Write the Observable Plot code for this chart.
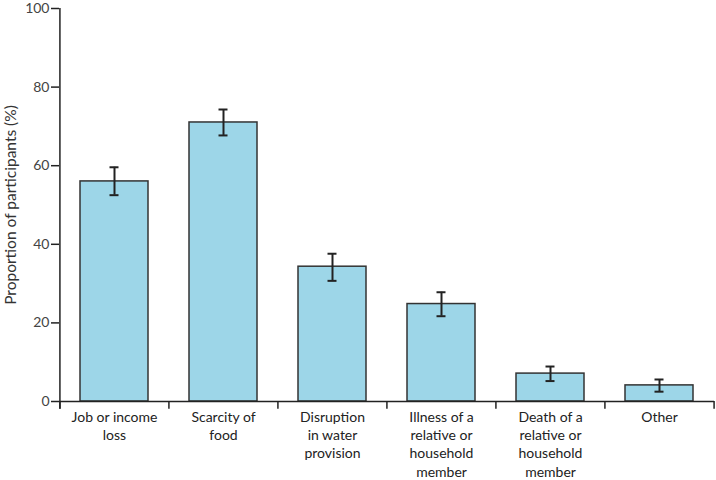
<!DOCTYPE html>
<html>
<head>
<meta charset="utf-8">
<script src="https://cdn.jsdelivr.net/npm/d3@7"></script>
<script src="https://cdn.jsdelivr.net/npm/@observablehq/plot@0.6"></script>
<style>
  html, body { margin: 0; padding: 0; background: #fff; }
  #chart { width: 716px; height: 480px; }
</style>
</head>
<body>
<div id="chart"></div>
<script>
const categories = [
  "Job or income\nloss",
  "Scarcity of\nfood",
  "Disruption\nin water\nprovision",
  "Illness of a\nrelative or\nhousehold\nmember",
  "Death of a\nrelative or\nhousehold\nmember",
  "Other"
];
const values = [56, 71, 34.3, 24.8, 7.1, 4.1];
const lower  = [52.5, 67.7, 30.7, 21.7, 5.2, 2.5];
const upper  = [59.6, 74.3, 37.6, 27.8, 8.9, 5.6];
const yTicks = [0, 20, 40, 60, 80, 100];

const data = categories.map((c, i) => ({cat: c, value: values[i], lo: lower[i], hi: upper[i]}));

const W = 716, H = 480, mL = 59, mR = 2, mT = 8, mB = 79;
const half = (W - mL - mR) / categories.length / 2;
const padInner = 0.377;
const bandW = (2 * half) * (1 - padInner);
const capW = 9;
const capInset = (bandW - capW) / 2;
const font = "Lato, 'Open Sans', sans-serif";

const chart = Plot.plot({
  width: W,
  height: H,
  marginLeft: mL,
  marginRight: mR,
  marginTop: mT,
  marginBottom: mB,
  style: {fontFamily: font, fontSize: "14px", color: "#222", background: "#fff", overflow: "visible"},
  x: {domain: categories, paddingInner: padInner, paddingOuter: padInner / 2, label: null},
  y: {domain: [0, 100], label: null},
  marks: [
    Plot.barY(data, {x: "cat", y: "value", fill: "#9dd6e8", stroke: "#333", strokeWidth: 1.5}),
    Plot.ruleX(data, {x: "cat", y1: "lo", y2: "hi", stroke: "#222", strokeWidth: 2}),
    Plot.tickY(data, {x: "cat", y: "lo", stroke: "#222", strokeWidth: 2, insetLeft: capInset, insetRight: capInset}),
    Plot.tickY(data, {x: "cat", y: "hi", stroke: "#222", strokeWidth: 2, insetLeft: capInset, insetRight: capInset}),
    Plot.ruleY([0], {stroke: "#222", strokeWidth: 1.5}),
    Plot.ruleX(categories, {x: d => d, dx: -half, y1: -2, y2: 0, stroke: "#222", strokeWidth: 1.5, clip: false}),
    Plot.ruleX(categories.slice(-1), {x: d => d, dx: half, y1: -2, y2: 0, stroke: "#222", strokeWidth: 1.5, clip: false}),
    Plot.ruleX(categories.slice(0, 1), {x: d => d, dx: -half, y1: -2, y2: 100, stroke: "#222", strokeWidth: 1.5, clip: false}),
    Plot.axisY({ticks: yTicks, tickSize: 8, tickPadding: 2, stroke: "#222", strokeWidth: 1.5, fill: "#444", fontSize: 14, label: null}),
    Plot.axisY({ticks: [], tickSize: 0, fill: "#333", fontSize: 15.5,
      label: "Proportion of participants (%)", labelAnchor: "center", labelArrow: "none", labelOffset: 55}),
    Plot.axisX({tickSize: 0, tickPadding: 7, fill: "#222", fontSize: 14, lineHeight: 1.31, label: null})
  ]
});

document.getElementById("chart").appendChild(chart);
</script>
</body>
</html>
